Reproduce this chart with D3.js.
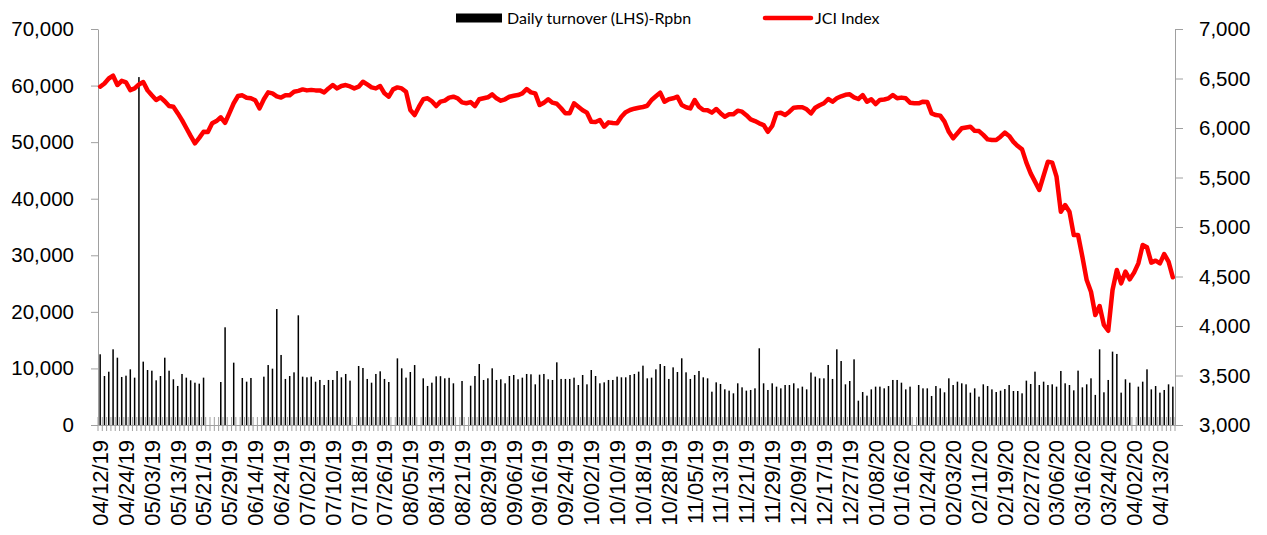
<!DOCTYPE html>
<html>
<head>
<meta charset="utf-8">
<script src="https://cdn.jsdelivr.net/npm/d3@7"></script>
<style>
  html, body { margin: 0; padding: 0; background: #fff; }
  svg { display: block; font-family: Lato, "Open Sans", sans-serif; }
  .axis path, .axis line { stroke: #a0a0a0; }
  .axis text { fill: #000; }
</style>
</head>
<body>
<svg id="chart" width="1267" height="535"></svg>
<script>
// Daily turnover in Rp bn (LHS), null = no bar that day
const turnover = [
  12500, 8660, 9420, 13380, 11900, 8490, 8720, 9840, 8370, 61500,
  11200, 9720, 9600, 7900, 8660, 11900, 9600, 8080, 6900, 9020,
  8370, 7900, 7480, 7310, 8370, null, null, null, 7600, 17270,
  null, 11020, null, 8310, 7660, 8310, null, null, 8545, 10600,
  9960, 20500, 12380, 8140, 8660, 9310, 19390, 8545, 8430, 8545,
  7660, 7960, 7070, 7960, 7960, 9550, 8430, 9020, 7840, null,
  10430, 10080, 8140, 7480, 9020, 9490, 8140, 7600, null, 11780,
  10020, 8370, 9370, 10600, null, 8250, 6900, 7480, 8600, 8630,
  8250, 8340, 7370, null, 7780, null, 6950, 8660, 10780, 7960,
  8250, 10020, 7960, 8080, 7370, 8660, 8840, 8080, 8370, 9020,
  8960, 7190, 8900, 9020, 8080, 7960, 11080, 8140, 8140, 8140,
  8370, 7070, 8840, 7190, 9720, 8660, 7370, 7540, 7960, 7960,
  8550, 8430, 8430, 8840, 9020, 9430, 10490, 8250, 8370, 9840,
  10780, 10430, 8140, 10190, 9370, 11790, 9310, 8140, 8840, 9550,
  8430, 8250, 5890, 7540, 7250, 6310, 6070, 5600, 7370, 6660,
  6070, 6190, 6480, 13560, 7370, 6190, 7370, 6780, 6480, 7070,
  7070, 7370, 6480, 6780, 6300, 9280, 8550, 8250, 8250, 10610,
  8140, 13380, 11310, 7190, 7780, 11610, 4300, 5830, 5190, 6300,
  6780, 6780, 6480, 6890, 7960, 7960, 7480, 6300, 6780, null,
  7070, 6480, 6480, 5130, 6890, 6480, 5780, 8250, 7070, 7660,
  7370, 7190, 5720, 6480, 5010, 7190, 6890, 6300, 5830, 6070,
  6360, 7070, 6010, 6010, 5600, 7840, 7250, 9430, 7070, 7660,
  7070, 7190, 6780, 9550, 7370, 7070, 6130, 9610, 6660, 7190,
  8250, 5320, 13380, 5780, 7960, 12970, 12560, 5720, 8080, 7480,
  null, 6780, 7660, 9840, 6300, 6890, 5720, 6190, 7190, 6780
];

// JCI index close (RHS)
const jci = [
  6417, 6450, 6500, 6528, 6434, 6477, 6460, 6383, 6400, 6440,
  6464, 6380, 6330, 6283, 6309, 6270, 6222, 6215, 6150, 6080,
  6000, 5920, 5845, 5900, 5962, 5960, 6047, 6070, 6108, 6053,
  6150, 6250, 6323, 6330, 6305, 6300, 6280, 6198, 6290, 6360,
  6350, 6320, 6307, 6330, 6330, 6366, 6375, 6390, 6380, 6385,
  6380, 6380, 6360, 6400, 6434, 6400, 6425, 6434, 6420, 6400,
  6417, 6467, 6440, 6410, 6400, 6424, 6350, 6316, 6390, 6410,
  6400, 6366, 6182, 6131, 6215, 6290, 6300, 6270, 6222, 6266,
  6276, 6307, 6316, 6300, 6259, 6250, 6262, 6222, 6290, 6300,
  6310, 6340, 6300, 6276, 6290, 6316, 6325, 6333, 6350, 6394,
  6360, 6350, 6232, 6256, 6290, 6256, 6245, 6200, 6148, 6150,
  6249, 6215, 6180, 6155, 6064, 6060, 6080, 6013, 6057, 6050,
  6047, 6114, 6160, 6182, 6195, 6205, 6212, 6225, 6283, 6320,
  6357, 6266, 6290, 6300, 6316, 6232, 6210, 6198, 6283, 6215,
  6182, 6180, 6155, 6192, 6150, 6114, 6138, 6138, 6175, 6165,
  6130, 6087, 6070, 6047, 6030, 5962, 6020, 6148, 6155, 6131,
  6165, 6205, 6209, 6209, 6189, 6148, 6205, 6230, 6250, 6293,
  6266, 6300, 6320, 6335, 6340, 6310, 6293, 6333, 6266, 6290,
  6242, 6283, 6288, 6300, 6333, 6300, 6307, 6300, 6256, 6250,
  6249, 6266, 6262, 6148, 6131, 6125, 6064, 5962, 5896, 5946,
  5997, 6005, 6013, 5972, 5969, 5930, 5885, 5878, 5878, 5912,
  5953, 5920, 5860, 5818, 5784, 5650, 5542, 5458, 5374, 5520,
  5660, 5650, 5508, 5155, 5222, 5155, 4919, 4919, 4700, 4464,
  4346, 4111, 4202, 4010, 3952, 4363, 4566, 4431, 4549, 4472,
  4539, 4633, 4818, 4795, 4640, 4660, 4633, 4727, 4650, 4492
];

// one label every 6th trading day
const tickLabels = [
  "04/12/19", "04/24/19", "05/03/19", "05/13/19", "05/21/19", "05/29/19",
  "06/14/19", "06/24/19", "07/02/19", "07/10/19", "07/18/19", "07/26/19",
  "08/05/19", "08/13/19", "08/21/19", "08/29/19", "09/06/19", "09/16/19",
  "09/24/19", "10/02/19", "10/10/19", "10/18/19", "10/28/19", "11/05/19",
  "11/13/19", "11/21/19", "11/29/19", "12/09/19", "12/17/19", "12/27/19",
  "01/08/20", "01/16/20", "01/24/20", "02/03/20", "02/11/20", "02/19/20",
  "02/27/20", "03/06/20", "03/16/20", "03/24/20", "04/02/20", "04/13/20"
];
const labelEvery = 6;

const leftTicks = [0, 10000, 20000, 30000, 40000, 50000, 60000, 70000];
const rightTicks = [3000, 3500, 4000, 4500, 5000, 5500, 6000, 6500, 7000];

const svg = d3.select("#chart");
const L = 98, R = 1175, T = 29, B = 425;
const days = d3.range(jci.length);

const x = d3.scaleBand().domain(days).range([L, R]).padding(0);
const yL = d3.scaleLinear().domain([0, 70000]).range([B, T]);
const yR = d3.scaleLinear().domain([3000, 7000]).range([B, T]);
const fmt = d3.format(",");

// bars
const barW = 1.5;
svg.append("g").selectAll("rect")
  .data(days.filter(i => turnover[i] != null))
  .enter().append("rect")
  .attr("x", i => x(i) + x.bandwidth() / 2 - barW / 2)
  .attr("width", barW)
  .attr("y", i => yL(turnover[i]))
  .attr("height", i => yL(0) - yL(turnover[i]))
  .attr("fill", "#000");

// category tick marks, crossing the baseline
svg.append("g").selectAll("line")
  .data(d3.range(days.length + 1))
  .enter().append("line")
  .attr("x1", i => L + i * x.step()).attr("x2", i => L + i * x.step())
  .attr("y1", B - 8).attr("y2", B + 6)
  .attr("stroke", "#a0a0a0").attr("stroke-width", 1);

// left axis
svg.append("g").attr("class", "axis")
  .attr("transform", `translate(${L},0)`)
  .call(d3.axisLeft(yL).tickValues(leftTicks).tickFormat(fmt).tickSizeInner(7).tickSizeOuter(0).tickPadding(17))
  .call(g => g.selectAll("text").style("font-size", "20.5px"));

// right axis
svg.append("g").attr("class", "axis")
  .attr("transform", `translate(${R},0)`)
  .call(d3.axisRight(yR).tickValues(rightTicks).tickFormat(fmt).tickSizeInner(8).tickSizeOuter(0).tickPadding(16))
  .call(g => g.selectAll("text").style("font-size", "20.5px"));

// bottom axis (labels only, ticks drawn above)
svg.append("g").attr("class", "axis")
  .attr("transform", `translate(0,${B})`)
  .call(d3.axisBottom(x)
    .tickValues(days.filter(i => i % labelEvery === 0))
    .tickFormat(i => tickLabels[i / labelEvery])
    .tickSize(0))
  .call(g => g.selectAll(".tick line").remove())
  .call(g => g.selectAll("text")
    .style("font-size", "22px")
    .attr("text-anchor", "end")
    .attr("transform", "rotate(-90)")
    .attr("x", -15).attr("y", 0).attr("dy", "0.36em"));

// JCI line
svg.append("path")
  .datum(days)
  .attr("fill", "none")
  .attr("stroke", "#ff0000")
  .attr("stroke-width", 4.5)
  .attr("stroke-linejoin", "round")
  .attr("stroke-linecap", "round")
  .attr("d", d3.line().x(i => x(i) + x.bandwidth() / 2).y(i => yR(jci[i])));

// legend
const lg = svg.append("g").style("font-size", "16px");
lg.append("rect").attr("x", 456).attr("y", 13.5).attr("width", 46).attr("height", 9).attr("fill", "#000");
lg.append("text").attr("x", 507).attr("y", 23.5).text("Daily turnover (LHS)-Rpbn");
lg.append("line").attr("x1", 765).attr("x2", 811).attr("y1", 18).attr("y2", 18)
  .attr("stroke", "#ff0000").attr("stroke-width", 4.5).attr("stroke-linecap", "round");
lg.append("text").attr("x", 815).attr("y", 23.5).text("JCI Index");
</script>
</body>
</html>
